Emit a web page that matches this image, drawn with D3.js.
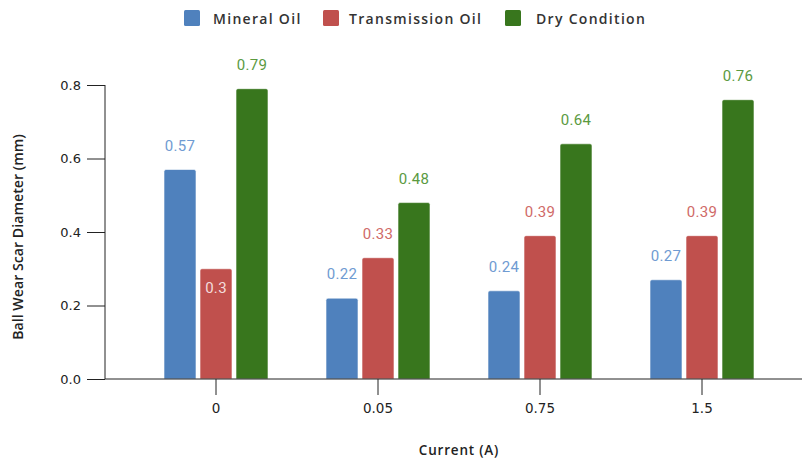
<!DOCTYPE html>
<html>
<head>
<meta charset="utf-8">
<script src="https://cdn.jsdelivr.net/npm/d3@7"></script>
<style>
  html, body { margin: 0; padding: 0; background: #fff; }
  svg { display: block; }
</style>
</head>
<body>
<svg id="chart" width="802" height="459"></svg>
<script>
// Ball wear scar diameter by current, for three lubrication conditions
const currents = ["0", "0.05", "0.75", "1.5"];
const seriesNames = ["Mineral Oil", "Transmission Oil", "Dry Condition"];
const mineralOil = [0.57, 0.22, 0.24, 0.27];
const transmissionOil = [0.3, 0.33, 0.39, 0.39];
const dryCondition = [0.79, 0.48, 0.64, 0.76];
const yTicks = [0, 0.2, 0.4, 0.6, 0.8];

const barColors = ["#4f81bd", "#c0504d", "#38761d"];
const labelColors = ["#6f9bd2", "#d06a68", "#5b9a3f"];

const seriesValues = [mineralOil, transmissionOil, dryCondition];
const rows = currents.map((c, i) => ({
  current: c,
  values: seriesNames.map((s, j) => ({ series: s, idx: j, value: seriesValues[j][i], ci: i }))
}));

const svg = d3.select("#chart");
const axisX0 = 105, axisRight = 802, yTop = 85, yBottom = 379;

const x = d3.scaleBand().domain(currents).range([135, 783]).padding(0);
const y = d3.scaleLinear().domain([0, 0.8]).range([yBottom, yTop]);
const barW = 32, gap = 4;
const xs = d3.scaleBand().domain(seriesNames).range([0, barW * 3 + gap * 2]).paddingInner(gap / (barW + gap));

// Bars
const groups = svg.append("g").selectAll("g").data(rows).join("g")
  .attr("transform", d => `translate(${x(d.current) + x.bandwidth() / 2 - xs.range()[1] / 2},0)`);

groups.selectAll("path").data(d => d.values).join("path")
  .attr("fill", d => barColors[d.idx])
  .attr("stroke", "#fff")
  .attr("stroke-width", 0.6)
  .attr("d", d => {
    const x0 = xs(d.series), w = xs.bandwidth();
    const yt = y(d.value), yb = y(0), r = 2;
    return `M${x0},${yb}V${yt + r}Q${x0},${yt} ${x0 + r},${yt}H${x0 + w - r}Q${x0 + w},${yt} ${x0 + w},${yt + r}V${yb}Z`;
  });

// Value labels: above the bar, or inside when the bar sits far below its left neighbour
function labelInside(d) {
  if (d.idx !== 1) return false;
  const left = mineralOil[d.ci];
  return left - d.value > 0.2;
}
groups.selectAll("text").data(d => d.values).join("text")
  .attr("x", d => xs(d.series) + xs.bandwidth() / 2)
  .attr("y", d => labelInside(d) ? y(d.value) + 24 : y(d.value) - 19)
  .attr("text-anchor", "middle")
  .attr("font-family", "Roboto, 'Open Sans', sans-serif")
  .attr("font-size", 15)
  .attr("letter-spacing", "0.3px")
  .attr("fill", d => labelInside(d) ? "#f3dcdc" : labelColors[d.idx])
  .text(d => d.value);

// Y axis
const yAxis = svg.append("g").attr("transform", `translate(${axisX0},0)`)
  .call(d3.axisLeft(y).tickValues(yTicks).tickFormat(d3.format(".1f")).tickSize(18).tickPadding(6));
yAxis.select(".domain").attr("d", `M0,${yTop}V${yBottom}`).attr("stroke", "#222");
yAxis.selectAll(".tick line").attr("stroke", "#222");
yAxis.selectAll(".tick text")
  .attr("font-family", "'DejaVu Sans', sans-serif")
  .attr("font-size", 13)
  .attr("fill", "#222");

// X axis
const xAxis = svg.append("g").attr("transform", `translate(0,${yBottom})`)
  .call(d3.axisBottom(x).tickSize(16).tickPadding(8));
xAxis.select(".domain").attr("d", `M${axisX0},0H${axisRight}`).attr("stroke", "#222");
xAxis.selectAll(".tick line").attr("stroke", "#222");
xAxis.selectAll(".tick text")
  .attr("font-family", "'DejaVu Sans', sans-serif")
  .attr("font-size", 13.5)
  .attr("fill", "#222");

// Axis titles
svg.append("text")
  .attr("x", 459).attr("y", 455)
  .attr("text-anchor", "middle")
  .attr("font-family", "'Open Sans', sans-serif")
  .attr("font-size", 13.5)
  .attr("font-weight", 600)
  .attr("letter-spacing", "0.8px")
  .attr("fill", "#222")
  .text("Current (A)");

svg.append("text")
  .attr("transform", "translate(23,237) rotate(-90)")
  .attr("text-anchor", "middle")
  .attr("font-family", "'Open Sans', sans-serif")
  .attr("font-size", 14.2)
  .attr("font-weight", 600)
  .attr("fill", "#222")
  .text("Ball Wear Scar Diameter (mm)");

// Legend
const legendX = [184, 323, 505];
const legend = svg.append("g").selectAll("g").data(seriesNames).join("g")
  .attr("transform", (d, i) => `translate(${legendX[i]},10)`);
legend.append("rect")
  .attr("width", 16).attr("height", 16).attr("rx", 1.5)
  .attr("fill", (d, i) => barColors[i]);
legend.append("text")
  .attr("x", (d, i) => i === 0 ? 29 : (i === 1 ? 26 : 31))
  .attr("y", 13.5)
  .attr("font-family", "'Open Sans', sans-serif")
  .attr("font-size", 14)
  .attr("font-weight", 600)
  .attr("letter-spacing", "1.3px")
  .attr("fill", "#333")
  .text(d => d);
</script>
</body>
</html>
